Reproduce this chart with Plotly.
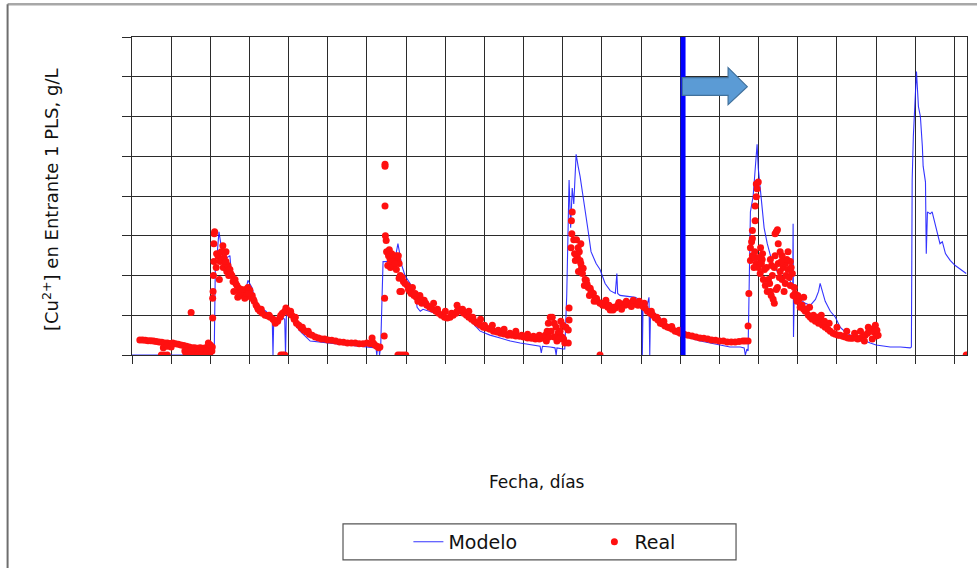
import plotly.graph_objects as go

# Modelo: simulated copper concentration (g/L) versus time (days)
modelo_dias = [
    0, 20.5, 21.0, 21.3, 21.8, 22.2, 23.0, 24.3, 25.0, 25.2, 25.8, 27.6, 28.9, 29.6, 30.7,
    31.7, 34.2, 35.8, 36.0, 36.2, 38.3, 39.0, 39.2, 39.4, 39.8, 41.1, 42.9, 45.5, 50.6,
    55.7, 58.2, 61.3, 62.3, 62.5, 62.7, 63.1, 63.2, 63.5,
    64.1, 65.1, 67.2, 67.9, 68.9, 69.7, 71.0, 72.3, 72.8, 73.6, 74.3, 76.5, 79.9, 81.5,
    83.8, 85.5, 88.9, 91.4, 94.0, 96.6, 99.1, 101.7, 104.2, 104.5, 104.8, 106.8, 108.0,
    108.3, 108.5, 110.1, 110.5,
    111.0, 111.6, 112.0, 112.4, 112.8, 113.4, 113.9, 114.4, 115.0, 115.7, 116.5, 117.2,
    117.8, 118.5, 119.5, 120.8, 122.1, 123.4, 123.8, 124.0, 124.6, 126.0, 127.2, 128.5,
    129.8, 130.2, 130.3, 130.5, 131.5, 132.0, 132.2, 132.4, 134.9, 137.4, 140.0, 142.5,
    145.1, 147.6, 150.2, 152.7, 155.3, 156.3, 156.6, 157.0, 157.3,
    157.9, 158.6, 159.6, 159.9, 160.9, 161.4, 162.2, 163.7, 165.5, 167.3, 168.1, 168.6,
    168.7, 168.8, 168.9, 169.1, 170.6, 171.9, 173.2, 174.5, 175.3, 175.7, 176.3, 177.0,
    178.3, 179.6, 180.8, 182.1, 183.4, 184.6, 185.9, 187.2, 188.5, 190.0, 193.6, 196.2,
    198.7, 199.0, 199.2, 199.5, 200.0, 200.3, 200.8, 201.3, 201.8, 202.0, 202.6, 202.8,
    203.1, 203.8, 204.3, 205.1, 205.6, 206.3, 206.9, 207.7, 208.9, 210.2, 213.0,
]
modelo_cu = [
    0, 0, 0.1, 2.4, 2.6, 3.1, 2.6, 2.45, 2.5, 2.25, 2.0, 1.7, 1.55, 1.88, 1.68,
    1.25, 1.1, 0.93, 0, 0.93, 0.93, 0.9, 0, 0.95, 1.18, 0.85, 0.6, 0.35, 0.3,
    0.25, 0.22, 0.2, 0.18, 0, 0.18, 0.15, 0, 0.2,
    2.35, 2.35, 2.43, 2.8, 2.25, 2.0, 1.8, 1.55, 1.2, 1.1, 1.15, 1.08, 0.98, 0.95,
    1.08, 0.95, 0.6, 0.5, 0.43, 0.35, 0.3, 0.25, 0.22, 0.05, 0.22, 0.2, 0.18,
    0, 0.18, 0.15, 0.15,
    1.5, 4.4, 3.2, 4.2, 3.8, 5.05, 4.75, 4.5, 4.1, 3.68, 3.1, 2.6,
    2.45, 2.3, 2.15, 1.8, 1.62, 1.55, 2.05, 1.55, 1.5, 1.48, 1.45, 1.45,
    1.38, 1.35, 0, 1.3, 1.25, 1.45, 0, 1.15, 0.93, 0.68, 0.5, 0.43,
    0.35, 0.3, 0.25, 0.2, 0.2, 0.18, 0, 0.15, 0.1,
    3.6, 4.0, 5.3, 4.7, 3.7, 3.2, 2.8, 2.25, 2.0, 1.93, 1.85, 1.7,
    1.7, 3.3, 0.45, 1.6, 1.4, 1.3, 1.25, 1.4, 1.6, 1.8, 1.6, 1.35,
    1.1, 0.95, 0.7, 0.58, 0.5, 0.45, 0.4, 0.35, 0.3, 0.25, 0.2, 0.2,
    0.18, 0.2, 4.4, 5.5, 6.7, 7.13, 6.25, 6.0, 5.25, 4.75, 4.35, 2.55,
    3.6, 3.55, 3.6, 3.3, 3.1, 2.8, 2.85, 2.55, 2.38, 2.25, 2.05,
]

# Real: measured copper concentration (g/L) versus time (days)
real_dias = [
    2.0, 2.7, 3.4, 4.1, 4.8, 5.5, 6.2, 6.9, 7.6, 8.3, 9.0, 9.7, 10.4, 11.1, 11.8, 12.5,
    13.2, 13.9, 14.6, 15.3, 16.0, 16.7, 17.4, 18.1, 18.8, 19.5,
    7.5, 8.2, 9.0, 8.0, 9.0, 10.0, 13.5, 14.3, 15.0, 15.8, 16.6, 17.4, 18.2, 19.0, 19.8,
    13.8, 14.8, 15.8, 16.8, 17.8, 18.8, 19.8, 15.1, 19.5, 20.0,
    20.6, 20.6, 20.7, 20.8, 20.9, 20.9, 21.0, 21.1, 20.5, 20.4,
    22.0, 22.5, 23.0, 23.3, 23.8, 24.2, 24.5, 25.0, 25.5, 25.8, 26.3, 26.8, 27.3, 27.8,
    28.3, 28.8, 29.3, 29.6, 30.1, 30.7, 31.2, 31.7, 32.2, 32.7, 33.3, 34.0, 34.7, 35.3,
    36.0, 36.6, 37.2, 37.8, 38.4, 39.0, 39.6, 40.2, 40.8, 41.4, 42.0, 42.6, 43.2, 43.9,
    44.6, 45.3, 46.0, 46.8, 47.6, 48.4, 49.2, 50.0, 51.0, 52.0, 53.0, 54.0, 55.0, 56.0,
    57.0, 58.0, 59.0, 60.0, 60.8, 61.3, 61.6, 62.0, 62.5, 63.0, 63.3, 23.2, 24.0, 21.5,
    22.3, 24.7, 26.0, 27.0, 29.0, 30.4, 38.0, 38.5, 39.0,
    21.6, 22.8, 23.5, 24.0, 25.2, 26.5, 27.5, 28.0, 29.8, 31.0, 32.0, 33.0, 35.0, 36.3,
    38.0, 39.3, 40.5, 41.7, 43.5, 45.0,
    64.6, 64.6, 64.6, 64.7, 64.9, 64.5, 64.4,
    65.0, 65.5, 65.9, 66.3, 66.7, 67.0, 67.4, 67.8, 68.2, 65.3, 66.0, 66.8, 67.5, 68.5,
    68.4, 68.8, 69.0, 68.2, 67.9, 68.5, 69.2, 69.9,
    69.7, 70.3, 71.0, 71.6, 72.0, 72.6, 73.0, 73.5, 74.0, 74.6, 75.3, 76.0, 76.8, 77.6,
    78.3, 79.0, 79.8, 80.5, 81.2, 82.0, 82.7, 83.4, 84.0, 84.7, 85.4, 86.0, 86.7, 87.4,
    88.1, 88.9, 89.7, 90.5, 91.4, 92.3, 93.2, 94.1, 95.0, 96.0, 97.0, 98.0, 99.0, 100.0,
    101.0, 102.0, 103.0, 104.0, 105.0, 105.5, 106.0,
    106.3, 106.8, 107.3, 107.8, 108.3, 108.8, 109.3, 109.8, 110.2, 110.5, 107.0, 107.8,
    108.5, 109.0, 105.8, 106.5, 110.8, 110.0, 109.5,
    77.0, 80.0, 83.0, 86.0, 89.0, 92.0, 95.0, 98.0, 101.0, 104.0,
    65.7, 66.5, 67.2, 68.0, 69.3, 70.6, 71.3, 72.3, 73.8, 75.0, 78.0, 81.6, 83.0, 84.4,
    87.0, 90.0, 93.5, 96.5, 99.5, 102.5,
    111.4, 111.4, 111.6, 111.6, 112.1, 112.3, 112.2, 112.4,
    112.8, 113.2, 113.7, 114.2, 114.4, 114.8, 115.2, 115.7, 116.0, 116.5, 117.0, 117.5,
    117.8, 118.3, 118.8, 119.5, 120.2, 120.8, 121.5, 122.1, 122.8, 123.4, 124.0, 124.6,
    125.3, 125.9, 126.6, 127.2, 127.9, 128.5, 129.2, 129.8, 130.5, 131.0, 131.6, 132.3,
    133.0, 133.6, 134.3, 134.9, 135.5, 136.1, 136.8, 137.4, 138.0, 138.7, 139.4, 140.0,
    141.0, 142.0, 143.0, 144.0, 145.0, 146.0, 147.0, 148.0, 149.0, 150.0, 151.0, 152.0,
    153.0, 154.0, 155.0, 156.0, 156.6, 119.5,
    113.5, 114.0, 115.5, 116.8, 118.0, 121.0, 125.0, 128.0, 114.6,
    113.0, 113.9, 114.6, 115.0, 116.2, 117.2, 118.6, 119.9, 121.8, 123.0, 124.3, 126.2,
    127.5, 129.5, 130.8, 132.6, 134.0, 135.8, 137.8, 139.7,
    157.3, 157.3, 157.5, 157.9, 158.4, 158.4, 159.1, 159.1, 159.4, 159.6, 159.4, 159.9,
    157.9, 158.4, 158.9, 159.4, 159.9, 160.4, 160.9, 161.2, 161.7, 162.2, 162.5, 163.0,
    163.2, 163.5, 163.7, 164.0, 164.0, 164.2, 164.2, 164.5, 164.8, 165.0, 165.0, 165.5,
    165.5, 166.0, 166.0, 166.3, 166.8, 166.8, 167.0, 167.5, 168.1, 168.1, 168.6, 168.8,
    169.1, 169.3, 169.8, 170.3, 170.6, 171.1, 171.9, 172.7, 173.2, 173.7, 174.5, 175.3,
    175.7, 176.3, 177.0, 177.7, 178.3, 179.0, 179.6, 180.3, 180.8, 181.5, 182.1, 182.8,
    183.4, 184.0, 184.6, 185.3, 185.9, 186.5, 187.2, 187.8, 188.5, 189.0, 189.5, 190.0,
    190.5, 186.0, 188.0, 189.8, 190.2, 187.0, 189.0, 164.8, 162.0, 160.5, 166.5, 167.5,
    163.0, 161.0, 158.8, 171.5, 173.0, 176.0, 178.0, 180.0, 182.5, 184.5,
    158.2, 159.0, 160.0, 160.7, 161.5, 162.8, 163.3, 164.5, 165.3, 165.8, 167.2, 167.8,
    168.3, 169.5, 170.0, 171.5, 172.3, 174.0, 175.0, 176.8,
    213.0,
]
real_cu = [
    0.38, 0.38, 0.37, 0.36, 0.36, 0.35, 0.34, 0.33, 0.32, 0.3, 0.3, 0.29, 0.3, 0.28, 0.27, 0.25,
    0.24, 0.22, 0.2, 0.18, 0.18, 0.17, 0.18, 0.17, 0.18, 0.2,
    0, 0, 0, 0.18, 0.22, 0.2, 0.1, 0.1, 0.1, 0.1, 0.1, 0.1, 0.1, 0.1, 0.1,
    0, 0, 0, 0, 0, 0, 0, 1.07, 0.3, 0.25,
    0.93, 1.43, 1.6, 2.0, 2.35, 2.8, 3.05, 3.1, 0.2, 0.1,
    2.48, 2.35, 2.4, 2.2, 2.3, 2.1, 2.25, 2.15, 2.0, 1.85, 1.9, 1.75, 1.68, 1.6,
    1.5, 1.43, 1.55, 1.7, 1.63, 1.5, 1.35, 1.25, 1.15, 1.1, 1.05, 1.0, 0.98, 0.95,
    0.9, 0.8, 0.85, 0.95, 1.05, 1.1, 1.13, 1.05, 1.0, 0.9, 0.8, 0.75, 0.68, 0.62,
    0.58, 0.52, 0.5, 0.45, 0.43, 0.4, 0.4, 0.38, 0.37, 0.35, 0.33, 0.32, 0.3, 0.3,
    0.3, 0.28, 0.28, 0.3, 0.28, 0.43, 0.3, 0.25, 0.22, 0.18, 0.2, 2.75, 2.6, 2.2,
    1.9, 2.0, 1.6, 1.45, 1.65, 1.45, 0, 0, 0,
    2.55, 2.6, 2.45, 2.35, 2.05, 1.8, 1.55, 1.65, 1.55, 1.4, 1.2, 1.15, 1.0, 0.88,
    1.0, 1.18, 1.1, 0.95, 0.7, 0.6,
    4.75, 4.8, 3.75, 3.0, 2.88, 1.43, 0.48,
    2.6, 2.5, 2.4, 2.55, 2.45, 2.35, 2.5, 2.4, 2.3, 2.25, 2.2, 2.25, 2.15, 2.0,
    1.6, 1.6, 1.95, 1.93, 0, 0, 0, 0,
    1.8, 1.75, 1.6, 1.7, 1.5, 1.45, 1.35, 1.5, 1.3, 1.38, 1.25, 1.2, 1.15, 1.1,
    1.05, 1.0, 0.95, 0.93, 0.95, 1.0, 1.05, 1.15, 1.1, 1.05, 1.0, 0.95, 0.9, 0.85,
    0.8, 0.75, 0.7, 0.68, 0.65, 0.6, 0.58, 0.55, 0.53, 0.5, 0.5, 0.48, 0.47, 0.45,
    0.43, 0.42, 0.4, 0.4, 0.42, 0.5, 0.6,
    0.8, 0.95, 0.95, 0.8, 0.7, 0.55, 0.6, 0.45, 0.4, 0.3, 0.6, 0.45,
    0.35, 0.4, 0.35, 0.45, 0.7, 0.75, 0.85,
    1.3, 1.1, 1.25, 1.1, 0.9, 0.75, 0.65, 0.6, 0.52, 0.5,
    2.65, 2.35, 2.3, 2.5, 1.85, 1.65, 1.55, 1.55, 1.4, 1.3, 1.15, 1.05, 1.1, 1.15,
    0.95, 0.75, 0.62, 0.55, 0.5, 0.47,
    0.3, 0.63, 0.88, 1.18, 2.7, 3.05, 3.38, 3.6,
    2.9, 2.38, 2.48, 2.6, 2.38, 2.2, 2.18, 1.9, 1.88, 1.7, 1.68, 1.55,
    1.55, 1.43, 1.35, 1.3, 1.25, 1.25, 1.2, 1.13, 1.13, 1.18, 1.25, 1.25,
    1.28, 1.25, 1.28, 1.3, 1.28, 1.28, 1.25, 1.28, 1.22, 1.18, 1.1, 1.05,
    1.0, 0.93, 0.88, 0.8, 0.78, 0.73, 0.7, 0.68, 0.65, 0.6, 0.58, 0.55,
    0.52, 0.5, 0.48, 0.45, 0.43, 0.42, 0.4, 0.38, 0.37, 0.35, 0.35, 0.33,
    0.33, 0.33, 0.34, 0.35, 0.35, 0,
    2.9, 2.1, 1.75, 1.5, 1.35, 1.38, 1.15, 1.38, 2.8,
    2.55, 2.7, 2.3, 2.05, 1.78, 1.6, 1.42, 1.3, 1.25, 1.2, 1.32, 1.35,
    1.22, 1.35, 1.3, 1.1, 0.95, 0.85, 0.72, 0.62,
    0.35, 0.73, 1.55, 2.38, 2.93, 3.13, 3.38, 3.75, 3.98, 4.18, 4.3, 4.35,
    2.7, 2.5, 2.45, 2.3, 2.2, 2.05, 2.4, 1.9, 1.75, 1.6, 1.9, 1.6,
    1.5, 2.0, 1.4, 1.3, 2.2, 2.5, 3.05, 3.1, 3.15, 2.8, 2.3, 2.6,
    2.1, 2.5, 1.9, 2.2, 2.3, 1.8, 2.0, 2.15, 2.35, 1.75, 2.05, 1.5,
    1.7, 1.55, 1.35, 1.4, 1.2, 1.25, 1.1, 1.0, 0.95, 0.9, 0.85, 0.8,
    0.9, 0.75, 0.7, 0.65, 0.6, 0.55, 0.52, 0.5, 0.5, 0.47, 0.45, 0.43,
    0.42, 0.42, 0.45, 0.4, 0.42, 0.45, 0.5, 0.55, 0.6, 0.65, 0.58, 0.48,
    0.5, 0.6, 0.7, 0.75, 0.62, 0.35, 0.4, 1.7, 2.2, 2.7, 1.6, 2.6,
    2.4, 2.55, 2.2, 1.45, 1.2, 1.0, 0.8, 0.7, 0.6, 0.55,
    2.85, 2.6, 2.45, 2.3, 2.15, 1.8, 2.25, 1.65, 1.95, 2.35, 2.4, 1.95,
    2.2, 1.45, 1.5, 1.15, 1.15, 1.0, 0.95, 0.85,
    0,
]

# Day at which the second operating stage begins
inicio_etapa = 140.7

x_max = 213.2
y_max = 8

grid = "#2b2b2b"

fig = go.Figure()

fig.add_trace(go.Scatter(
    x=modelo_dias, y=modelo_cu, mode="lines", name="Modelo",
    line=dict(color="rgba(30,30,255,0.9)", width=1.1),
))
fig.add_trace(go.Scatter(
    x=real_dias, y=real_cu, mode="markers", name="Real",
    marker=dict(color="#ff1010", size=7, line=dict(width=0)),
))

# marker for the start of the new stage, with an arrow pointing forward
fig.add_shape(type="line", xref="x", yref="y",
              x0=inicio_etapa, x1=inicio_etapa, y0=0, y1=y_max,
              line=dict(color="#0000ff", width=5), layer="above")
fig.add_shape(type="path", xref="x", yref="y", layer="above",
              path=("M 140.5,6.98 L 152.2,6.98 L 152.2,7.23 L 157.1,6.75 "
                    "L 152.2,6.3 L 152.2,6.53 L 140.5,6.53 Z"),
              fillcolor="#5b9bd5", line=dict(color="#41719c", width=1.2))

# outer frame (top and left edges)
fig.add_shape(type="line", xref="paper", yref="paper",
              x0=-0.149, x1=1.012, y0=1.103, y1=1.103,
              line=dict(color="#a8a8a8", width=2.5))
fig.add_shape(type="line", xref="paper", yref="paper",
              x0=-0.149, x1=-0.149, y0=1.103, y1=-0.67,
              line=dict(color="#6e6e6e", width=2))

# legend box
fig.add_shape(type="rect", xref="paper", yref="paper",
              x0=0.2527, x1=0.7234, y0=-0.644, y1=-0.531,
              line=dict(color="#555555", width=1.2), fillcolor="rgba(0,0,0,0)")

fig.add_annotation(text="Fecha, días", xref="paper", yref="paper",
                   x=0.485, y=-0.4375, showarrow=False,
                   font=dict(size=17, color="#111111"))
fig.add_annotation(text="[Cu<sup>2+</sup>] en Entrante 1 PLS, g/L",
                   xref="paper", yref="paper", x=-0.114, y=0.49,
                   textangle=-90, showarrow=False,
                   font=dict(size=18, color="#111111"))

fig.update_layout(
    width=978, height=572,
    margin=dict(l=132, r=11, t=37, b=215),
    paper_bgcolor="white", plot_bgcolor="white",
    font=dict(family="DejaVu Sans", color="#111111"),
    showlegend=True,
    legend=dict(orientation="h", x=0.331, y=-0.5875, xanchor="left", yanchor="middle",
                font=dict(size=19), entrywidth=141, entrywidthmode="pixels",
                bgcolor="rgba(0,0,0,0)", borderwidth=0),
)
fig.update_xaxes(range=[0, x_max], dtick=10, tick0=0, showgrid=True,
                 gridcolor=grid, gridwidth=1.4, showticklabels=False,
                 ticks="outside", ticklen=8, tickcolor=grid, tickwidth=1.4,
                 showline=True, mirror=True, linecolor=grid, linewidth=1.4,
                 zeroline=False)
fig.update_yaxes(range=[0, y_max], dtick=1, tick0=0, showgrid=True,
                 gridcolor=grid, gridwidth=1.4, showticklabels=False,
                 ticks="outside", ticklen=9, tickcolor=grid, tickwidth=1.4,
                 showline=True, mirror=True, linecolor=grid, linewidth=1.4,
                 zeroline=False)

fig.write_html("out.html")
